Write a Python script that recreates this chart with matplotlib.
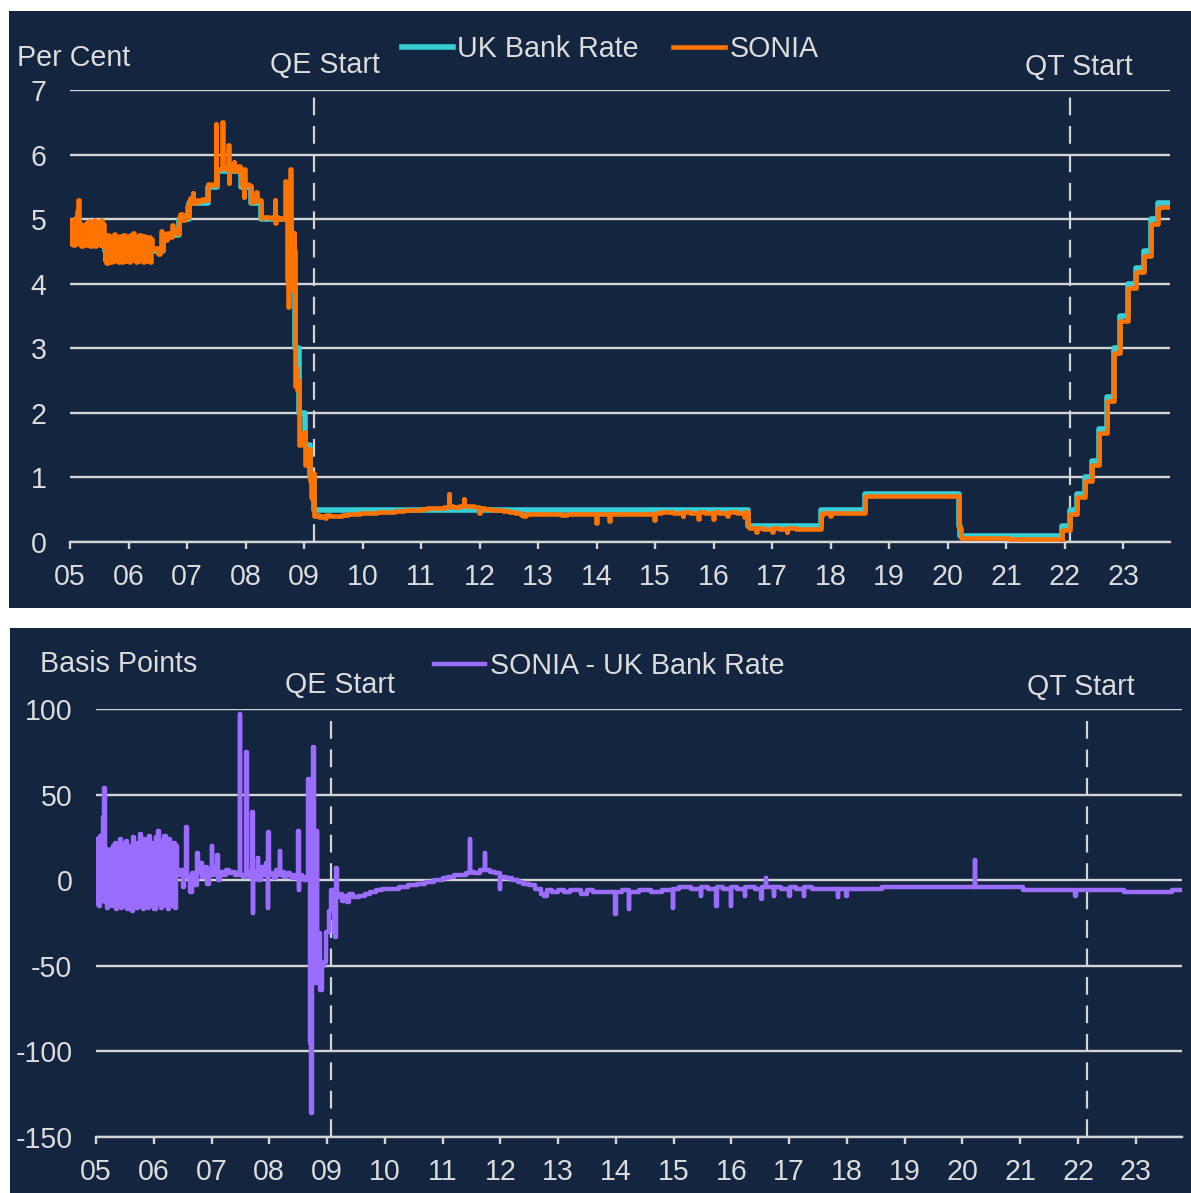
import numpy as np
import matplotlib
matplotlib.use('Agg')
import matplotlib.pyplot as plt
from matplotlib.patches import Rectangle

plt.rcParams['font.family'] = ['Liberation Sans', 'DejaVu Sans']
plt.rcParams['axes.unicode_minus'] = False

navy = '#13253f'
txt = '#dcdcdc'
grid_c = '#d4d4d4'
cyan = '#38cfd4'
orange = '#ff7300'
purple = '#9b6dff'

# Bank Rate decisions (decimal year, per cent)
br_dates = [2005.00, 2005.59, 2006.59, 2006.86, 2007.03, 2007.36, 2007.51, 2007.93, 2008.10,
            2008.27, 2008.77, 2008.85, 2008.92, 2009.02, 2009.10, 2009.17, 2016.59, 2017.84,
            2018.58, 2020.19, 2020.21, 2021.96, 2022.09, 2022.21, 2022.34, 2022.46, 2022.59,
            2022.72, 2022.84, 2022.95, 2023.09, 2023.22, 2023.36, 2023.47, 2023.59]
br_rates = [4.75, 4.50, 4.75, 5.00, 5.25, 5.50, 5.75, 5.50, 5.25,
            5.00, 4.50, 3.00, 2.00, 1.50, 1.00, 0.50, 0.25, 0.50,
            0.75, 0.25, 0.10, 0.25, 0.50, 0.75, 1.00, 1.25, 1.75,
            2.25, 3.00, 3.50, 4.00, 4.25, 4.50, 5.00, 5.25]
end_date = 2023.78

# SONIA - Bank Rate, bp: volatile weekly readings 2005 to mid 2006
noise_bp = [24, -14, 22, -15, 26, -12, 37, 54, -13, 18, -16, 14, -14, 18, -15, 20, -13, 22,
            -17, 19, -12, 24, -16, 16, -14, 21, -15, 23, -17, 18, -14, 20, -18, 25, -13, 15,
            -16, 22, -15, 27, -14, 19, -17, 24, -12, 20, -16, 26, -15, 18, -13, 22, -17, 25,
            -14, 29, -12, 17, -16, 23, -15, 26, -14, 21, -17, 24, -13, 19, -15, 22, -16, 20]
noise_start, noise_end = 2005.0, 2006.38

# SONIA - Bank Rate, bp: later readings (decimal year, bp)
spread_dates = [2006.40, 2006.45, 2006.50, 2006.53, 2006.56, 2006.57, 2006.62, 2006.66, 2006.70,
                2006.75, 2006.76, 2006.80, 2006.84, 2006.88, 2006.92, 2006.96, 2007.00, 2007.01,
                2007.05, 2007.10, 2007.11, 2007.15, 2007.20, 2007.25, 2007.30, 2007.35, 2007.40,
                2007.45, 2007.49, 2007.50, 2007.55, 2007.60, 2007.61, 2007.66, 2007.70, 2007.71,
                2007.72, 2007.76, 2007.80, 2007.81, 2007.85, 2007.90, 2007.94, 2007.97, 2007.98,
                2007.99, 2008.04, 2008.08, 2008.12, 2008.18, 2008.19, 2008.22, 2008.26, 2008.30,
                2008.35, 2008.40, 2008.45, 2008.50, 2008.51, 2008.52, 2008.56, 2008.60, 2008.64,
                2008.67, 2008.69, 2008.71, 2008.73, 2008.74, 2008.76, 2008.77, 2008.79, 2008.82,
                2008.83, 2008.86, 2008.88, 2008.91, 2008.95, 2008.99, 2009.03, 2009.07, 2009.12,
                2009.14, 2009.16, 2009.17, 2009.20, 2009.25, 2009.30, 2009.35, 2009.38, 2009.45,
                2009.55, 2009.65, 2009.75, 2009.85, 2009.95, 2010.10, 2010.25, 2010.40, 2010.55,
                2010.70, 2010.85, 2011.00, 2011.10, 2011.20, 2011.30, 2011.40, 2011.47, 2011.48,
                2011.55, 2011.65, 2011.73, 2011.74, 2011.82, 2011.90, 2011.99, 2012.00, 2012.10,
                2012.20, 2012.30, 2012.40, 2012.50, 2012.60, 2012.70, 2012.75, 2012.80, 2012.90,
                2013.00, 2013.10, 2013.20, 2013.40, 2013.50, 2013.60, 2013.75, 2013.99, 2014.00,
                2014.10, 2014.22, 2014.23, 2014.40, 2014.60, 2014.80, 2014.98, 2014.99, 2015.10,
                2015.30, 2015.47, 2015.48, 2015.60, 2015.74, 2015.75, 2015.85, 2015.99, 2016.00,
                2016.10, 2016.23, 2016.24, 2016.40, 2016.52, 2016.53, 2016.59, 2016.60, 2016.73,
                2016.74, 2016.85, 2017.00, 2017.01, 2017.12, 2017.25, 2017.26, 2017.40, 2017.60,
                2017.84, 2017.85, 2017.99, 2018.00, 2018.25, 2018.60, 2019.00, 2019.50, 2020.00,
                2020.21, 2020.22, 2020.50, 2021.05, 2021.50, 2021.95, 2021.96, 2022.30, 2022.79,
                2023.20, 2023.63]
spread_bp = [3, 6, -4, 5, 31, 2, -7, 4, -3,
             16, 5, 10, 2, 8, -2, 6, 20, 3,
             8, 15, 0, 5, 3, 6, 4, 5, 3,
             4, 97, 3, 2, 75, 5, 2, 40, -19,
             2, 5, 13, 0, 8, 3, 10, -16, 28,
             4, 3, 1, 6, 17, 3, 5, 2, 4,
             3, 1, 3, 29, -6, 3, 2, 0, 2,
             59, 45, -95, -136, -40, 78, 10, -60, 29,
             -58, -31, -64, -50, -48, -30, -18, -6, -30,
             -33, 7, -10, -8, -12, -9, -13, -8, -10,
             -9, -8, -7, -6, -5, -5, -4, -3, -2,
             -1, 0, 1, 2, 3, 3, 4, 24, 5,
             4, 6, 16, 6, 5, 4, -5, 2, 1,
             0, -1, -2, -3, -5, -8, -9, -6, -7,
             -6, -7, -6, -8, -6, -7, -7, -20, -7,
             -6, -17, -7, -6, -7, -6, -16, -5, -4,
             -5, -9, -4, -5, -15, -4, -5, -15, -4,
             -5, -9, -4, -5, -11, -4, 1, -4, -9,
             -4, -5, -9, -4, -5, -9, -4, -5, -5,
             -10, -5, -9, -5, -5, -4, -4, -4, -4,
             12, -4, -4, -6, -6, -9, -6, -6, -7,
             -7, -6]

# combine spread readings
noise_dates = np.linspace(noise_start, noise_end, len(noise_bp))
sp_t = np.concatenate([noise_dates, spread_dates, [end_date]])
sp_v = np.concatenate([noise_bp, spread_bp, [spread_bp[-1]]]).astype(float)

br_t = np.array(br_dates + [end_date])
br_v = np.array(br_rates + [br_rates[-1]])

# SONIA = Bank Rate in force + spread in force (both step series)
all_t = np.unique(np.concatenate([sp_t, br_t]))
br_at = br_v[np.searchsorted(br_t, all_t, side='right') - 1]
sp_at = sp_v[np.clip(np.searchsorted(sp_t, all_t, side='right') - 1, 0, None)]
sonia = br_at + sp_at / 100

# marker lines as placed in each panel
qe_top, qt_top = 2009.17, 2022.09
qe_bot, qt_bot = 2009.07, 2022.15

W, H = 1191, 1193
fig = plt.figure(figsize=(W / 100, H / 100), dpi=100)
fig.patch.set_facecolor('white')
fx = lambda x: x / W
fy = lambda y: 1 - y / H
fig.patches.append(Rectangle((fx(9), fy(608)), fx(1191) - fx(9), fy(11) - fy(608),
                             transform=fig.transFigure, facecolor=navy, edgecolor='none', zorder=-5))
fig.patches.append(Rectangle((fx(10), fy(1193)), fx(1191) - fx(10), fy(628) - fy(1193),
                             transform=fig.transFigure, facecolor=navy, edgecolor='none', zorder=-5))

fs = 20.6
years = np.arange(2005, 2024)
ylabels = ['%02d' % (y % 100) for y in years]


def style_axes(ax):
    ax.set_facecolor(navy)
    ax.patch.set_alpha(0)
    for s in ['top', 'right', 'left']:
        ax.spines[s].set_visible(False)
    ax.spines['bottom'].set_color(grid_c)
    ax.spines['bottom'].set_linewidth(1.7)
    ax.set_xticks(years)
    ax.set_xticklabels(ylabels)
    ax.tick_params(axis='x', colors=grid_c, labelcolor=txt, labelsize=fs, length=5, width=1.7,
                   direction='out', pad=10)
    ax.tick_params(axis='y', length=0, labelcolor=txt, labelsize=fs, pad=17)
    ax.grid(axis='y', color=grid_c, linewidth=1.7)
    ax.set_axisbelow(True)
    ax.set_xlim(2005, 2023.8)


# top panel
ax1 = fig.add_axes([fx(70), fy(542), fx(1170) - fx(70), fy(90) - fy(542)])
style_axes(ax1)
ax1.set_ylim(0, 7)
ax1.set_yticks(range(0, 8))
ax1.plot(br_t, br_v, drawstyle='steps-post', color=cyan, lw=4.0, zorder=3, label='UK Bank Rate')
ax1.plot(all_t, sonia, drawstyle='steps-post', color=orange, lw=3.3, zorder=4, label='SONIA')
for d in [qe_top, qt_top]:
    ax1.axvline(d, ymax=0.993, color=grid_c, lw=1.6, dashes=(8, 4.8), zorder=2)
ax1.legend(loc='center', bbox_to_anchor=(fx(610), fy(49)), bbox_transform=fig.transFigure,
           ncol=2, frameon=False, fontsize=fs, labelcolor=txt, handlelength=1.8,
           handletextpad=0.15, columnspacing=1.2, borderpad=0, borderaxespad=0)

fig.text(fx(17), fy(58), 'Per Cent', color=txt, fontsize=fs, ha='left', va='center')
fig.text(fx(325), fy(65), 'QE Start', color=txt, fontsize=fs, ha='center', va='center')
fig.text(fx(1079), fy(67), 'QT Start', color=txt, fontsize=fs, ha='center', va='center')

# bottom panel
ax2 = fig.add_axes([fx(96), fy(1137), fx(1182) - fx(96), fy(709) - fy(1137)])
style_axes(ax2)
ax2.set_ylim(-150, 100)
ax2.set_yticks(range(-150, 101, 50))
ax2.plot(sp_t, sp_v, drawstyle='steps-post', color=purple, lw=3.2, zorder=4,
         label='SONIA - UK Bank Rate')
for d in [qe_bot, qt_bot]:
    ax2.axvline(d, ymax=0.985, color=grid_c, lw=1.6, dashes=(8, 4.8), zorder=2)
ax2.legend(loc='center', bbox_to_anchor=(fx(609), fy(666)), bbox_transform=fig.transFigure,
           ncol=1, frameon=False, fontsize=fs, labelcolor=txt, handlelength=1.8,
           handletextpad=0.15, borderpad=0, borderaxespad=0)

fig.text(fx(40), fy(664), 'Basis Points', color=txt, fontsize=fs, ha='left', va='center')
fig.text(fx(340), fy(685), 'QE Start', color=txt, fontsize=fs, ha='center', va='center')
fig.text(fx(1081), fy(687), 'QT Start', color=txt, fontsize=fs, ha='center', va='center')

fig.savefig('out.png', dpi=100, facecolor='white')
